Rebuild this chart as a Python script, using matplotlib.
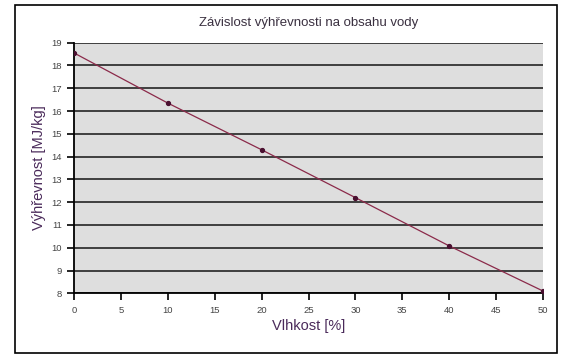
import matplotlib
matplotlib.use("Agg")
import matplotlib.pyplot as plt
from matplotlib.patches import Rectangle

# data
vlhkost = [0, 10, 20, 30, 40, 50]
vyhrevnost = [18.55, 16.35, 14.3, 12.2, 10.08, 8.1]
x_ticks = [0, 5, 10, 15, 20, 25, 30, 35, 40, 45, 50]
y_ticks = [8, 9, 10, 11, 12, 13, 14, 15, 16, 17, 18, 19]

plt.rcParams['font.family'] = ['Liberation Sans', 'DejaVu Sans']

fig = plt.figure(figsize=(5.69, 3.59), dpi=100)
fig.patches.append(Rectangle((15/569, 1-353/359), 542/569, 348/359, transform=fig.transFigure,
                             fill=False, edgecolor='black', linewidth=1.2))

ax = fig.add_axes([74/569, 1-293.3/359, 469/569, 250.6/359])
ax.set_facecolor('#dedede')
ax.plot(vlhkost, vyhrevnost, color='#8b2a4a', linewidth=0.9, marker='o',
        markersize=2.8, markerfacecolor='#4a1030', markeredgecolor='#4a1030', zorder=3)

ax.set_xlim(0, 50)
ax.set_ylim(8, 19)
ax.set_xticks(x_ticks)
ax.set_yticks(y_ticks)
ax.grid(axis='y', color='#333333', linewidth=1.3)
ax.set_axisbelow(True)
for s in ['top', 'right']:
    ax.spines[s].set_visible(False)
ax.spines['left'].set_linewidth(1.3)
ax.spines['bottom'].set_linewidth(1.3)
ax.tick_params(axis='both', labelsize=6.8, labelcolor='#444444', length=5, width=1.2, direction='out')
ax.tick_params(axis='x', pad=4)

ax.set_title('Závislost výhřevnosti na obsahu vody', fontsize=9.5, color='#3a3040', pad=12)
ax.set_xlabel('Vlhkost [%]', fontsize=10.5, color='#4a2a5a', labelpad=3)
ax.set_ylabel('Výhřevnost [MJ/kg]', fontsize=10.5, color='#4a2a5a', labelpad=4)

fig.savefig('out.png', dpi=100)
